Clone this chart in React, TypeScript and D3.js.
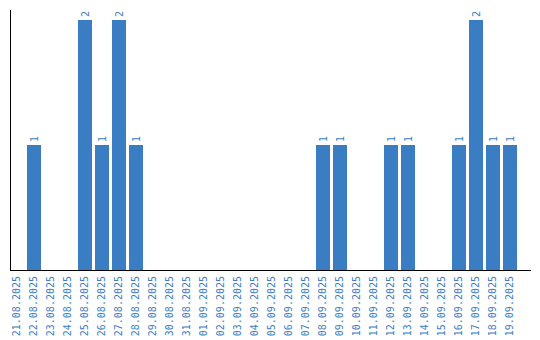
import React from "react";
import * as d3 from "d3";

const dates = [
  "21.08.2025", "22.08.2025", "23.08.2025", "24.08.2025", "25.08.2025",
  "26.08.2025", "27.08.2025", "28.08.2025", "29.08.2025", "30.08.2025",
  "31.08.2025", "01.09.2025", "02.09.2025", "03.09.2025", "04.09.2025",
  "05.09.2025", "06.09.2025", "07.09.2025", "08.09.2025", "09.09.2025",
  "10.09.2025", "11.09.2025", "12.09.2025", "13.09.2025", "14.09.2025",
  "15.09.2025", "16.09.2025", "17.09.2025", "18.09.2025", "19.09.2025",
];
const counts = [
  0, 1, 0, 0, 2, 1, 2, 1, 0, 0,
  0, 0, 0, 0, 0, 0, 0, 0, 1, 1,
  0, 0, 1, 1, 0, 0, 1, 2, 1, 1,
];

const W = 540;
const H = 340;
const color = "#3b7dc2";
const font = "'DejaVu Sans Mono', monospace";

export default function App() {
  const x = d3
    .scaleBand<string>()
    .domain(dates)
    .range([8.5, 8.5 + 510])
    .paddingInner(3 / 17)
    .paddingOuter(1.5 / 17);
  const y = d3.scaleLinear().domain([0, 2.08]).range([270, 10]);

  return (
    <svg
      width={W}
      height={H}
      style={{ position: "absolute", left: 0, top: 0, background: "#fff" }}
    >
      {dates.map((d, i) =>
        counts[i] > 0 ? (
          <g key={d}>
            <rect
              x={x(d)}
              y={y(counts[i])}
              width={x.bandwidth()}
              height={y(0) - y(counts[i])}
              fill={color}
            />
            <text
              transform={`translate(${(x(d) as number) + x.bandwidth() / 2 + 3.5},${y(counts[i]) - 3}) rotate(-90)`}
              fontFamily={font}
              fontSize={10}
              fill={color}
              textAnchor="start"
            >
              {counts[i]}
            </text>
          </g>
        ) : null
      )}
      <line x1={10.5} x2={10.5} y1={10} y2={270.5} stroke="#000" strokeWidth={1} />
      <line x1={10} x2={531} y1={270.5} y2={270.5} stroke="#000" strokeWidth={1} />
      {dates.map((d) => (
        <text
          key={"l" + d}
          transform={`translate(${(x(d) as number) + x.bandwidth() / 2 + 3},276) rotate(-90)`}
          fontFamily={font}
          fontSize={10}
          fill={color}
          textAnchor="end"
        >
          {d}
        </text>
      ))}
    </svg>
  );
}
